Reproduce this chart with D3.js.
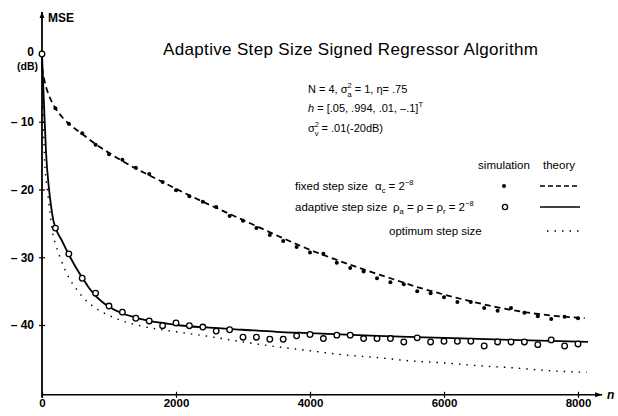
<!DOCTYPE html>
<html>
<head>
<meta charset="utf-8">
<script src="https://cdn.jsdelivr.net/npm/d3@7"></script>
<style>
  body { margin: 0; background: #fff; }
  svg { display: block; font-family: "Liberation Sans", Arial, sans-serif; }
</style>
</head>
<body>
<svg id="chart" width="618" height="416"></svg>
<script>
// theory curves, [n, MSE in dB]
var fixedTheory = [[0,-2],[50,-4.5],[100,-6],[200,-8],[300,-9.3],[400,-10.3],[600,-11.8],[800,-13.3],
  [1000,-14.6],[1200,-15.8],[1400,-16.9],[1600,-17.9],[1800,-18.9],[2000,-19.9],[2400,-21.8],[2800,-23.6],
  [3200,-25.4],[3600,-27.2],[4000,-28.9],[4400,-30.4],[4800,-31.8],[5200,-33.1],[5600,-34.4],[6000,-35.5],
  [6400,-36.5],[6800,-37.4],[7200,-38.1],[7600,-38.6],[8100,-39.0]];

var adaptiveTheory = [[0,0],[30,-7.5],[60,-14.5],[100,-19.5],[140,-22.8],[170,-24.6],[200,-25.6],[300,-27.6],
  [400,-29.6],[500,-31.4],[600,-33.0],[700,-34.5],[800,-35.7],[900,-36.6],[1000,-37.3],[1200,-38.3],
  [1400,-38.9],[1600,-39.4],[1800,-39.7],[2000,-40.0],[2500,-40.4],[3000,-40.7],[3500,-41.0],[4000,-41.2],
  [5000,-41.6],[6000,-41.9],[7000,-42.2],[8150,-42.5]];

var optimumTheory = [[0,0],[20,-10],[40,-16],[80,-20],[120,-23.5],[165,-26.8],[200,-28],[300,-30.8],
  [400,-33],[500,-34.5],[600,-35.8],[800,-37.5],[1000,-38.6],[1200,-39.4],[1500,-40.2],[2000,-41.0],
  [2500,-41.7],[3000,-42.5],[3500,-43.2],[4000,-43.8],[4500,-44.4],[5000,-44.8],[5500,-45.3],[6000,-45.6],
  [6500,-46],[7000,-46.3],[7500,-46.7],[8130,-47.0]];

// simulation points
var fixedSim = [[200,-8.0],[400,-10.3],[600,-11.7],[800,-13.4],[1000,-14.8],[1200,-15.6],[1400,-16.8],
  [1600,-17.7],[1800,-18.9],[2000,-20.1],[2200,-21.0],[2400,-21.8],[2600,-22.6],[2800,-23.9],[3000,-24.6],
  [3200,-25.7],[3400,-26.7],[3600,-27.6],[3800,-28.5],[4000,-29.3],[4200,-29.5],[4400,-30.8],[4600,-31.6],
  [4800,-32.1],[5000,-33.1],[5200,-33.7],[5400,-34.0],[5600,-35.0],[5800,-35.3],[6000,-35.9],[6200,-36.6],
  [6400,-36.6],[6600,-37.5],[6800,-37.9],[7000,-37.5],[7200,-38.2],[7400,-38.7],[7600,-39.1],[7800,-38.8],
  [8000,-39.0]];

var adaptiveSim = [[0,0],[200,-25.7],[400,-29.5],[600,-33.1],[800,-35.3],[1000,-37.2],[1200,-38.1],
  [1400,-39.0],[1600,-39.4],[1800,-40.1],[2000,-39.7],[2200,-40.1],[2400,-40.3],[2600,-40.9],[2800,-40.7],
  [3000,-41.8],[3200,-41.8],[3400,-42.1],[3600,-42.1],[3800,-41.6],[4000,-41.4],[4200,-42.0],[4400,-41.5],
  [4600,-41.5],[4800,-42.0],[5000,-42.0],[5200,-42.0],[5400,-42.5],[5600,-41.9],[5800,-42.5],[6000,-42.4],
  [6200,-42.4],[6400,-42.4],[6600,-43.1],[6800,-42.5],[7000,-42.5],[7200,-42.5],[7400,-42.9],[7600,-42.2],
  [7800,-43.1],[8000,-42.8]];

var xTicks = [0, 2000, 4000, 6000, 8000];
var yTicks = [0, -10, -20, -30, -40];

var svg = d3.select("#chart");

var x = d3.scaleLinear().domain([0, 8000]).range([42, 578]),
    y = d3.scaleLinear().domain([0, -40]).range([54, 325]);

var line = d3.line()
    .x(function(d) { return x(d[0]); })
    .y(function(d) { return y(d[1]); })
    .curve(d3.curveMonotoneX);

// axes
var xAxis = d3.axisBottom(x).tickValues(xTicks).tickSize(3).tickPadding(1)
    .tickFormat(d3.format("d"));
var yAxis = d3.axisLeft(y).tickValues(yTicks).tickSize(3).tickPadding(5)
    .tickFormat(function(d) { return d === 0 ? "0" : "\u2013 " + Math.abs(d); });

var y0 = y(-50.3);
var gx = svg.append("g").attr("transform", "translate(0," + y0 + ")").call(xAxis);
var gy = svg.append("g").attr("transform", "translate(" + x(0) + ",0)").call(yAxis);

gx.select(".domain").remove();
gy.select(".domain").remove();
gx.selectAll(".tick line").attr("y1", -3).attr("stroke-width", 1.2);
gy.selectAll(".tick line").attr("x1", 3).attr("stroke-width", 1.2);
gx.selectAll("text").attr("font-size", 11.5).attr("font-weight", "bold").attr("font-family", null);
gy.selectAll("text").attr("font-size", 12).attr("font-weight", "bold").attr("font-family", null);
// the "0" sits a little higher to leave room for "(dB)"
gy.selectAll(".tick text").filter(function(d) { return d === 0; }).attr("y", -2);

svg.append("line")
    .attr("x1", x(0)).attr("x2", x(8360))
    .attr("y1", y0).attr("y2", y0)
    .attr("stroke", "#000").attr("stroke-width", 1.6);
svg.append("path")
    .attr("d", "M" + x(8360) + "," + y0 + "l-7,-2.5v5z")
    .attr("fill", "#000");
svg.append("line")
    .attr("x1", x(0)).attr("x2", x(0))
    .attr("y1", y0 + 3).attr("y2", y(6.2))
    .attr("stroke", "#000").attr("stroke-width", 1.8);
svg.append("path")
    .attr("d", "M" + x(0) + "," + y(6.2) + "l-2.5,6h5z")
    .attr("fill", "#000");

svg.append("text").attr("x", x(8360) + 5).attr("y", y0 + 4)
    .attr("font-size", 12).attr("font-style", "italic").attr("font-weight", "bold").text("n");
svg.append("text").attr("x", x(0) + 6).attr("y", y(6.2) + 10)
    .attr("font-size", 12).attr("font-weight", "bold").text("MSE");
svg.append("text").attr("x", 38).attr("y", y(0) + 16)
    .attr("font-size", 10.5).attr("font-weight", "bold").attr("text-anchor", "end").text("(dB)");

// curves
var curves = svg.append("g").attr("fill", "none").attr("stroke", "#000");

curves.append("path").datum(optimumTheory)
    .attr("d", line).attr("stroke-width", 1.4).attr("stroke-dasharray", "1.5,6");

curves.append("path").datum(fixedTheory)
    .attr("d", line).attr("stroke-width", 1.8).attr("stroke-dasharray", "6,4");

curves.append("path").datum(adaptiveTheory)
    .attr("d", line).attr("stroke-width", 1.8);

svg.append("g").selectAll("circle")
    .data(fixedSim)
    .enter().append("circle")
    .attr("cx", function(d) { return x(d[0]); })
    .attr("cy", function(d) { return y(d[1]); })
    .attr("r", 2)
    .attr("fill", "#000");

svg.append("g").selectAll("circle")
    .data(adaptiveSim)
    .enter().append("circle")
    .attr("cx", function(d) { return x(d[0]); })
    .attr("cy", function(d) { return y(d[1]); })
    .attr("r", 2.8)
    .attr("fill", "#fff")
    .attr("stroke", "#000")
    .attr("stroke-width", 1.3);

// title and parameters
svg.append("text")
    .attr("x", 163).attr("y", 55)
    .attr("font-size", 17)
    .attr("textLength", 375)
    .text("Adaptive Step Size Signed Regressor Algorithm");

var info = svg.append("g").attr("font-size", 11);

function rich(g, xp, yp, parts) {
  var t = g.append("text").attr("x", xp).attr("y", yp);
  parts.forEach(function(p) {
    var s = t.append("tspan").text(p[0]);
    if (p[1] === "sup") s.attr("font-size", 7.5).attr("baseline-shift", "5");
    if (p[1] === "sub") s.attr("font-size", 7.5).attr("baseline-shift", "-3");
    if (p[1] === "subBack") s.attr("font-size", 7.5).attr("baseline-shift", "-4").attr("dx", -4.2);
  });
  return t;
}

rich(info, 308, 93, [["N = 4, \u03c3"], ["2", "sup"], ["a", "subBack"], [" = 1, \u03b7= .75"]]);
rich(info, 308, 112, [["h", ""], [" = [.05, .994, .01, \u2013.1]"], ["T", "sup"]]).select("tspan").attr("font-style", "italic");
rich(info, 308, 132, [["\u03c3"], ["2", "sup"], ["v", "subBack"], [" = .01(-20dB)"]]);

// legend
var leg = svg.append("g").attr("font-size", 11.5);
leg.append("text").attr("x", 504).attr("y", 169).attr("text-anchor", "middle").text("simulation");
leg.append("text").attr("x", 559).attr("y", 169).attr("text-anchor", "middle").text("theory");

leg.append("text").attr("x", 295).attr("y", 190).text("fixed step size");
rich(leg, 375, 190, [["\u03b1"], ["c", "sub"], [" = 2"], ["\u22128", "sup"]]);
leg.append("circle").attr("cx", 504).attr("cy", 186).attr("r", 2).attr("fill", "#000");
leg.append("line").attr("x1", 540).attr("x2", 579).attr("y1", 186).attr("y2", 186)
    .attr("stroke", "#000").attr("stroke-width", 1.5).attr("stroke-dasharray", "5,3");

leg.append("text").attr("x", 295).attr("y", 211).text("adaptive step size");
rich(leg, 393, 211, [["\u03c1"], ["a", "sub"], [" = \u03c1 = \u03c1"], ["r", "sub"], [" = 2"], ["\u22128", "sup"]]);
leg.append("circle").attr("cx", 505).attr("cy", 207).attr("r", 2.6)
    .attr("fill", "#fff").attr("stroke", "#000").attr("stroke-width", 1.3);
leg.append("line").attr("x1", 540).attr("x2", 580).attr("y1", 207).attr("y2", 207)
    .attr("stroke", "#000").attr("stroke-width", 1.5);

leg.append("text").attr("x", 389).attr("y", 235).text("optimum step size");
leg.append("line").attr("x1", 547).attr("x2", 580).attr("y1", 231).attr("y2", 231)
    .attr("stroke", "#000").attr("stroke-width", 1.4).attr("stroke-dasharray", "1.5,6");
</script>
</body>
</html>
